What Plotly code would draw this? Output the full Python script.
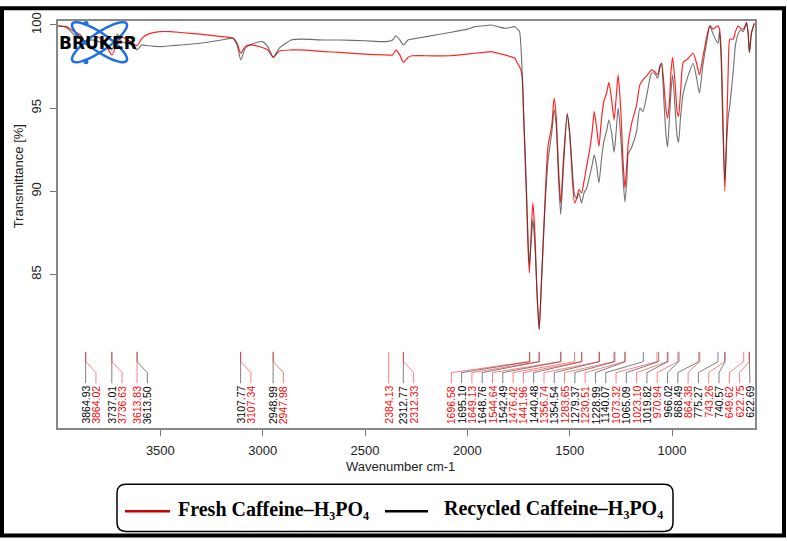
import numpy as np
import plotly.graph_objects as go

# ---------------- data ----------------
wavenumber = [4000, 3960, 3920, 3890, 3864, 3840, 3800, 3770, 3737, 3710, 3690, 3660, 3640, 3614, 3590, 3560,
              3500, 3450, 3400, 3306, 3200, 3145, 3125, 3107, 3085, 3062, 3003, 2975, 2948, 2930, 2915, 2860,
              2818, 2700, 2622, 2500, 2400, 2365, 2349, 2330, 2312, 2290, 2270, 2200, 2085, 2000, 1963, 1920,
              1885, 1850, 1816, 1790, 1768, 1755, 1745, 1733, 1725, 1712, 1703, 1697, 1688, 1680, 1670, 1660,
              1649, 1638, 1621, 1606, 1587, 1576, 1566, 1555, 1544, 1530, 1512, 1500, 1488, 1476, 1465, 1455,
              1442, 1430, 1417, 1401, 1390, 1380, 1368, 1357, 1345, 1333, 1320, 1308, 1295, 1283, 1273, 1263,
              1250, 1240, 1230, 1220, 1214, 1197, 1173, 1157, 1142, 1120, 1100, 1085, 1070, 1060, 1051, 1040,
              1030, 1022, 1012, 1005, 997, 985, 975, 968, 958, 945, 920, 897, 880, 866, 850, 830,
              815, 799, 784, 775, 768, 760, 752, 742, 733, 725, 717, 701, 690, 677, 665, 652,
              640, 636, 628, 622, 612, 598]

t_fresh = [99.95, 99.9, 99.6, 99.4, 98.95, 99.3, 99.25, 98.9, 98.2, 98.9, 99.3, 99.1, 98.95, 98.75, 99.2, 99.45,
           99.6, 99.6, 99.55, 99.45, 99.3, 99.2, 98.9, 98.3, 98.7, 98.8, 98.65, 98.5, 98.05, 98.3, 98.45, 98.5,
           98.5, 98.4, 98.35, 98.25, 98.2, 98.2, 98.5, 98.2, 97.75, 98.05, 98.15, 98.15, 98.15, 98.25, 98.3, 98.35,
           98.4, 98.3, 98.2, 98.1, 98.0, 97.7, 97.5, 97.0, 94.5, 90.0, 86.5, 85.1, 87.5, 89.3, 87.5, 84.0,
           81.7, 84.5, 89.3, 92.7, 94.0, 95.6, 94.5, 91.5, 89.3, 92.0, 94.6, 93.5, 91.0, 89.3, 89.6, 90.1,
           89.9, 90.6, 91.5, 92.6, 93.6, 94.8, 93.8, 92.7, 94.3, 95.4, 95.9, 96.55, 95.5, 94.3, 95.6, 97.0,
           94.8, 92.0, 90.2, 91.8, 92.85, 94.1, 95.2, 96.4, 96.7, 97.0, 97.3, 97.2, 97.0, 97.5, 97.7, 96.5,
           95.0, 94.4, 95.5, 97.2, 98.05, 96.5, 94.8, 94.5, 96.0, 97.75, 98.0, 98.3, 97.7, 97.0, 98.0, 99.3,
           99.95, 99.75, 99.9, 99.95, 99.75, 98.5, 95.0, 90.0, 93.5, 97.5, 99.15, 99.15, 99.6, 99.95, 99.8, 99.75,
           100.0, 100.15, 99.5, 98.35, 99.5, 100.1]

t_recycled = [99.95, 99.85, 99.4, 99.2, 98.8, 99.1, 99.0, 98.8, 98.5, 99.45, 99.0, 98.9, 98.8, 98.5, 98.8, 98.75,
              98.7, 98.75, 98.8, 98.9, 99.1, 99.2, 98.8, 97.9, 98.6, 98.8, 99.0, 98.7, 98.05, 98.4, 98.65, 99.1,
              99.15, 99.1, 99.1, 99.05, 99.0, 99.1, 99.35, 99.1, 98.8, 99.1, 99.15, 99.3, 99.55, 99.75, 99.9, 99.95,
              100.0, 99.9, 99.8, 99.85, 99.9, 99.75, 99.6, 97.4, 94.8, 90.5, 87.0, 85.6, 87.0, 88.3, 86.8, 84.0,
              81.7, 84.5, 89.0, 91.8, 93.6, 94.9, 94.0, 91.0, 88.6, 91.5, 94.7, 93.5, 91.5, 89.8, 89.6, 89.9,
              89.3, 89.9, 90.2, 91.0, 91.6, 92.2, 91.5, 90.5, 91.9, 93.0, 93.6, 94.3, 93.5, 92.35, 93.6, 95.0,
              93.2, 91.0, 89.35, 90.8, 92.25, 92.65, 93.6, 95.0, 94.8, 96.0, 97.1, 97.1, 96.8, 97.4, 97.7, 95.5,
              93.5, 92.65, 94.5, 96.0, 97.0, 95.0, 93.3, 92.95, 94.5, 95.9, 97.0, 97.7, 96.8, 95.9, 97.5, 99.0,
              99.95, 99.45, 99.05, 98.9, 99.6, 98.0, 94.0, 90.65, 93.0, 94.5, 95.2, 97.2, 98.8, 99.45, 99.7, 99.6,
              100.0, 100.15, 99.5, 98.35, 99.5, 100.1]

peaks_fresh = [3864.02, 3736.63, 3613.83, 3107.34, 2947.98, 2384.13, 2312.33, 1696.58, 1649.13, 1544.64,
               1476.42, 1441.96, 1356.74, 1283.65, 1230.51, 1073.32, 1023.10, 970.94, 864.38, 743.26,
               649.62, 622.75]
peaks_recycled = [3864.93, 3737.01, 3613.50, 3107.77, 2948.99, 2312.77, 1695.10, 1648.76, 1542.49, 1440.48,
                  1354.54, 1279.37, 1228.99, 1140.07, 1065.09, 1019.82, 966.02, 868.49, 775.27, 740.57,
                  622.69]

x_ticks = [3500, 3000, 2500, 2000, 1500, 1000]
y_ticks = [85, 90, 95, 100]

name_fresh = "Fresh Caffeine–H₃PO₄"
name_recycled = "Recycled Caffeine–H₃PO₄"

# ---------------- layout constants ----------------
W, H = 787, 541
L, R, T, B = 58, 32, 15, 113
PW, PH = W - L - R, H - T - B
XR = [4000, 594.5]
YR = [75.77, 100.24]

RED = "#ff0000"
RED_LINE = "rgba(255,0,0,0.85)"
BLK_LINE = "rgba(50,50,50,0.7)"
RED_LEAD = "rgba(255,0,0,0.5)"
BLK_LEAD = "rgba(0,0,0,0.5)"


def px(x):
    return (x - L) / PW


def py(y):
    return (H - B - y) / PH


fig = go.Figure()

fig.add_trace(go.Scatter(x=wavenumber, y=t_fresh, mode="lines", name=name_fresh,
                         line=dict(color=RED_LINE, width=1.2, shape="spline", smoothing=0.6),
                         showlegend=False))
fig.add_trace(go.Scatter(x=wavenumber, y=t_recycled, mode="lines", name=name_recycled,
                         line=dict(color=BLK_LINE, width=1.1, shape="spline", smoothing=0.6),
                         showlegend=False))

# ---------------- peak labels ----------------
allp = sorted([(v, "r") for v in peaks_fresh] + [(v, "k") for v in peaks_recycled], key=lambda t: -t[0])
GAP = 50.3
MIN_LAB = 619.5
lab = []
for i, (v, c) in enumerate(allp):
    lab.append(v if i == 0 else min(v, lab[-1] - GAP))
lab[-1] = max(lab[-1], MIN_LAB)
for i in range(len(lab) - 2, -1, -1):
    lab[i] = max(lab[i], lab[i + 1] + GAP)

Y_TOP, Y_K1, Y_K2, Y_BOT, Y_TXT = 80.35, 79.76, 79.1, 78.46, 78.36
for col, lc in (("k", BLK_LEAD), ("r", RED_LEAD)):
    xs, ys = [], []
    for (v, c), lx in zip(allp, lab):
        if c != col:
            continue
        xs += [v, v, lx, lx, None]
        ys += [Y_TOP, Y_K1, Y_K2, Y_BOT, None]
    fig.add_trace(go.Scatter(x=xs, y=ys, mode="lines", line=dict(color=lc, width=1),
                             showlegend=False, hoverinfo="skip"))

annotations = []
for (v, c), lx in zip(allp, lab):
    annotations.append(dict(x=lx, y=Y_TXT, xref="x", yref="y", text=f"{v:.2f}", showarrow=False,
                            textangle=-90, xanchor="center", yanchor="top",
                            font=dict(family="Liberation Sans, Arial", size=10.5,
                                      color=RED if c == "r" else "#000000"),
                            borderpad=0))

# axis titles
annotations.append(dict(x=px(18), y=90.9, xref="paper", yref="y", text="Transmittance [%]",
                        showarrow=False, textangle=-90, xanchor="center", yanchor="middle",
                        font=dict(family="Liberation Sans, Arial", size=13, color="#222")))
annotations.append(dict(x=px(400), y=py(467), xref="paper", yref="paper", text="Wavenumber cm-1",
                        showarrow=False, xanchor="center", yanchor="middle",
                        font=dict(family="Liberation Sans, Arial", size=13, color="#222")))

# ---------------- legend (custom) ----------------
LEG_FONT = dict(family="Liberation Serif, Times New Roman, serif", size=20, color="#000")
annotations.append(dict(x=px(176), y=py(510), xref="paper", yref="paper", text=f"<b>{name_fresh}</b>",
                        showarrow=False, xanchor="left", yanchor="middle", font=LEG_FONT))
annotations.append(dict(x=px(442), y=py(510), xref="paper", yref="paper", text=f"<b>{name_recycled}</b>",
                        showarrow=False, xanchor="left", yanchor="middle", font=LEG_FONT))

shapes = []


def rrect(x0, y0, x1, y1, r):
    pts = [("M", x0 + r, y0), ("L", x1 - r, y0), ("Q", x1, y0, x1, y0 + r), ("L", x1, y1 - r),
           ("Q", x1, y1, x1 - r, y1), ("L", x0 + r, y1), ("Q", x0, y1, x0, y1 - r), ("L", x0, y0 + r),
           ("Q", x0, y0, x0 + r, y0)]
    s = ""
    for p in pts:
        cmd = p[0]
        coords = p[1:]
        parts = []
        for k in range(0, len(coords), 2):
            parts.append(f"{px(coords[k]):.5f},{py(coords[k + 1]):.5f}")
        s += cmd + " ".join(parts) + " "
    return s + "Z"


shapes.append(dict(type="path", xref="paper", yref="paper", path=rrect(117, 485, 673, 533, 9),
                   line=dict(color="#000", width=1.5), fillcolor="white", layer="above"))
shapes.append(dict(type="line", xref="paper", yref="paper", x0=px(125), x1=px(170), y0=py(512.5), y1=py(512.5),
                   line=dict(color="#cc0000", width=2.5)))
shapes.append(dict(type="line", xref="paper", yref="paper", x0=px(385), x1=px(428), y0=py(512.5), y1=py(512.5),
                   line=dict(color="#000", width=2.5)))

# outer frame
shapes.append(dict(type="rect", xref="paper", yref="paper", x0=px(2), x1=px(784), y0=py(537), y1=py(2),
                   line=dict(color="#000", width=4), layer="above"))

# ---------------- Bruker logo ----------------
cx, cy, a, b = 99.5, 36.5, 33, 9
tt = np.linspace(0, 2 * np.pi, 73)
for ang in (35, -35):
    th = np.deg2rad(ang)
    ex = cx + a * np.cos(tt) * np.cos(th) - b * np.sin(tt) * np.sin(th)
    ey = cy + a * np.cos(tt) * np.sin(th) + b * np.sin(tt) * np.cos(th)
    path = "M" + " L".join(f"{px(xx):.5f},{py(yy):.5f}" for xx, yy in zip(ex, ey)) + " Z"
    shapes.append(dict(type="path", xref="paper", yref="paper", path=path,
                       line=dict(color="#1f6fe0", width=2.5), layer="above"))
for dx, dy in ((86, 17.5), (86, 56.5)):
    shapes.append(dict(type="circle", xref="paper", yref="paper", x0=px(dx - 2.5), x1=px(dx + 2.5),
                       y0=py(dy + 2.5), y1=py(dy - 2.5), fillcolor="#1f6fe0", line=dict(width=0),
                       layer="above"))
annotations.append(dict(x=px(98), y=py(37), xref="paper", yref="paper", text="<b>BRUKER</b>", showarrow=False,
                        xanchor="center", yanchor="middle",
                        font=dict(family="DejaVu Sans", size=17, color="#000")))

fig.update_layout(
    width=W, height=H,
    margin=dict(l=L, r=R, t=T, b=B),
    paper_bgcolor="white", plot_bgcolor="white",
    showlegend=False,
    shapes=shapes,
    annotations=annotations,
    xaxis=dict(range=XR, tickvals=x_ticks, ticks="outside", ticklen=6, tickcolor="#777",
               ticklabelstandoff=4,
               showline=True, linecolor="#888", linewidth=1.5, mirror=True, showgrid=False, zeroline=False,
               tickfont=dict(family="Liberation Sans, Arial", size=13, color="#222")),
    yaxis=dict(range=YR, tickvals=y_ticks, ticks="outside", ticklen=6, tickcolor="#777", tickangle=-90,
               ticklabelstandoff=4,
               showline=True, linecolor="#888", linewidth=1.5, mirror=True, showgrid=False, zeroline=False,
               tickfont=dict(family="Liberation Sans, Arial", size=13, color="#222")),
)

fig.write_html("out.html")
